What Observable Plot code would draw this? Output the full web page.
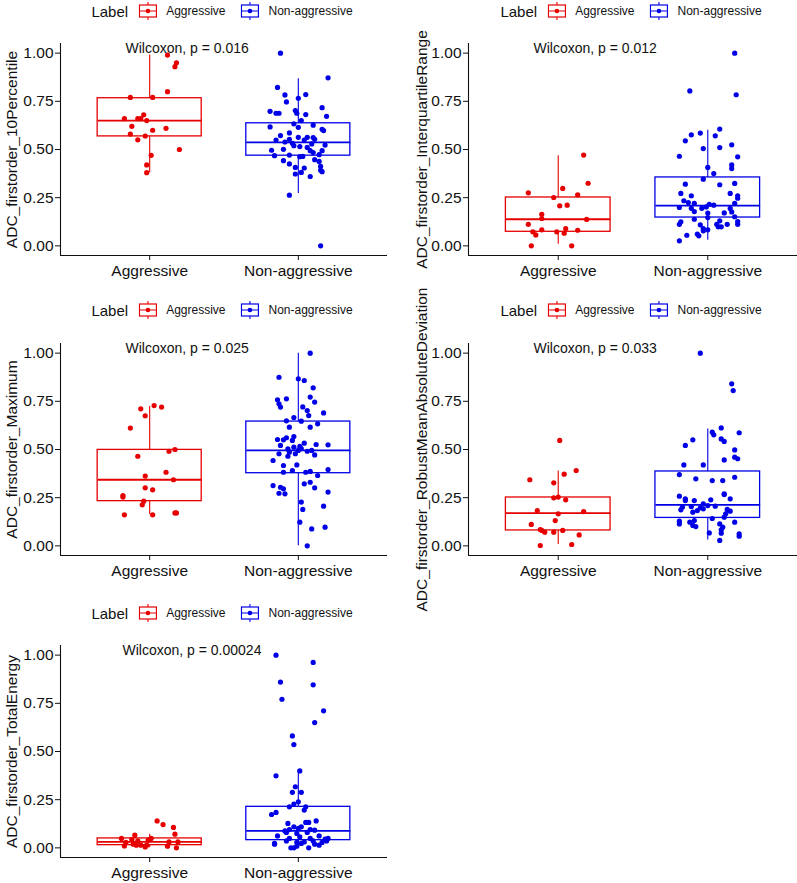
<!DOCTYPE html>
<html>
<head>
<meta charset="utf-8">
<script src="https://cdn.jsdelivr.net/npm/d3@7"></script>
<script src="https://cdn.jsdelivr.net/npm/@observablehq/plot@0.6"></script>
<style>
  html, body { margin: 0; padding: 0; background: #fff; }
  body { width: 797px; height: 883px; position: relative; overflow: hidden; font-family: "Liberation Sans", Arial, sans-serif; }
  .panel { position: absolute; }
  .panel svg { overflow: visible; }
  .legend { position: absolute; display: flex; align-items: center; transform: translateX(-50%); white-space: nowrap; color: #111; }
  .legend .title { font-size: 15px; margin-right: 10px; }
  .legend .lab { font-size: 12px; margin-left: 9px; }
  .legend .gap { width: 15px; }
</style>
</head>
<body>
<div id="root"></div>
<script>
// ---------------- data ----------------
const groups = ["Aggressive", "Non-aggressive"];
const legendTitle = "Label";
const features = [
  "ADC_firstorder_10Percentile",
  "ADC_firstorder_InterquartileRange",
  "ADC_firstorder_Maximum",
  "ADC_firstorder_RobustMeanAbsoluteDeviation",
  "ADC_firstorder_TotalEnergy"
];
const pValues = ["0.016", "0.012", "0.025", "0.033", "0.00024"];
const yTicks = [0, 0.25, 0.5, 0.75, 1];

// box statistics per feature: [lower whisker, q1, median, q3, upper whisker]
const boxAggressive = [
  [0.38, 0.568, 0.650, 0.766, 0.99],
  [0.009, 0.073, 0.138, 0.251, 0.467],
  [0.161, 0.232, 0.343, 0.498, 0.723],
  [0.007, 0.080, 0.170, 0.251, 0.388],
  [0.0, 0.014, 0.031, 0.049, 0.071]
];
const boxNonAggressive = [
  [0.272, 0.468, 0.537, 0.636, 0.867],
  [0.029, 0.147, 0.209, 0.355, 0.600],
  [0.0, 0.377, 0.495, 0.645, 1.0],
  [0.031, 0.145, 0.213, 0.386, 0.607],
  [0.0, 0.040, 0.088, 0.213, 0.404]
];

// jittered observations: [horizontal jitter, value]
const tenPctAgg = [[.12,.99],[.18,.95],[.17,.93],[.12,.80],[-.13,.77],[.02,.77],[-.17,.66],[-.04,.68],[-.08,.66],[-.06,.66],[-.02,.65],[-.12,.62],[.11,.61],[-.13,.58],[.02,.60],[-.03,.57],[-.08,.55],[.2,.50],[.01,.47],[-.02,.42],[-.02,.38]];
const tenPctNon = [[-.12,1.0],[.20,.872],[-.14,.822],[-.09,.783],[.05,.785],[0,.766],[-.08,.747],[.16,.717],[-.19,.698],[-.15,.688],[-.13,.688],[-.02,.702],[-.01,.688],[.05,.681],[.19,.672],[.02,.650],[-.03,.633],[.10,.626],[-.19,.617],[0,.615],[.16,.605],[.17,.598],[-.06,.586],[-.12,.572],[0,.563],[.06,.563],[.10,.562],[-.15,.549],[-.06,.553],[.04,.549],[.11,.553],[-.09,.539],[-.04,.532],[.09,.529],[.18,.523],[-.03,.520],[.01,.515],[.06,.511],[-.10,.501],[-.18,.496],[.08,.494],[.16,.494],[.10,.484],[-.06,.471],[-.16,.468],[.14,.473],[.03,.464],[.01,.463],[.11,.447],[-.10,.442],[.14,.438],[-.06,.425],[.15,.412],[-.02,.407],[.04,.404],[.15,.392],[.16,.385],[.02,.381],[-.02,.373],[.08,.360],[-.06,.263],[.15,0]];
const iqrAgg = [[.17,.471],[.20,.325],[.03,.298],[-.20,.275],[.13,.265],[-.03,.251],[.01,.208],[.06,.211],[-.11,.164],[-.11,.142],[.19,.137],[-.20,.112],[.05,.090],[-.11,.083],[.13,.081],[-.17,.073],[-.01,.073],[-.15,.057],[.04,.066],[-.18,0],[.09,0]];
const iqrNon = [[.18,1.0],[-.12,.804],[.19,.784],[.08,.606],[-.05,.585],[-.11,.576],[.05,.571],[-.15,.545],[.16,.524],[-.03,.505],[.08,.510],[-.19,.465],[.20,.462],[.16,.420],[.16,.401],[0,.407],[.04,.375],[-.03,.346],[-.15,.320],[.08,.317],[.18,.324],[-.18,.272],[.15,.272],[-.11,.260],[.20,.260],[.20,.247],[-.16,.234],[-.13,.225],[-.09,.221],[.18,.221],[.01,.216],[.04,.211],[-.19,.199],[-.11,.195],[-.04,.195],[-.01,.202],[.15,.194],[-.09,.178],[.11,.171],[0,.170],[.16,.176],[.18,.151],[-.09,.138],[0,.147],[.08,.130],[.20,.126],[-.18,.125],[-.19,.112],[-.05,.109],[.06,.112],[.13,.112],[.20,.112],[.09,.099],[-.03,.090],[0,.083],[.07,.099],[-.03,.078],[-.07,.061],[-.14,.055],[-.06,.052],[-.19,.026]];
const maxAgg = [[.03,.728],[.08,.720],[-.06,.711],[-.03,.675],[-.13,.611],[.17,.500],[.13,.491],[-.08,.465],[.11,.382],[-.03,.362],[.16,.343],[-.03,.301],[.02,.291],[-.18,.261],[-.18,.253],[-.04,.232],[-.05,.213],[.18,.171],[.17,.171],[-.17,.161],[.02,.161]];
const maxNon = [[.08,1.0],[-.13,.875],[0,.867],[.04,.858],[.10,.820],[.08,.772],[-.14,.758],[-.08,.763],[.11,.746],[-.13,.737],[-.12,.720],[.03,.721],[.06,.702],[.17,.690],[.07,.676],[-.03,.666],[-.08,.649],[.02,.647],[.13,.633],[.08,.616],[-.06,.616],[-.03,.567],[-.08,.561],[-.10,.550],[-.14,.552],[-.04,.547],[.04,.533],[.12,.526],[.20,.524],[-.12,.521],[.01,.516],[-.03,.512],[-.07,.503],[.02,.505],[0,.495],[-.06,.486],[.09,.495],[-.13,.478],[.06,.491],[-.02,.478],[.11,.472],[-.07,.465],[-.17,.443],[-.01,.420],[-.10,.417],[.20,.396],[-.04,.391],[-.10,.382],[.05,.382],[.08,.386],[.13,.365],[.08,.330],[.04,.322],[-.17,.313],[-.12,.304],[-.10,.296],[.11,.301],[-.13,.273],[-.09,.270],[.20,.279],[.02,.227],[.17,.206],[.03,.189],[.01,.123],[.18,.097],[.09,.088],[.06,0]];
const rmadAgg = [[.01,.547],[.12,.391],[.04,.372],[-.19,.343],[-.03,.327],[-.03,.249],[0,.253],[.05,.239],[-.14,.183],[.17,.178],[0,.166],[-.18,.111],[-.02,.131],[-.12,.085],[-.11,.080],[-.09,.071],[-.03,.071],[.03,.080],[.14,.057],[-.12,.002],[.09,.007]];
const rmadNon = [[-.05,1.0],[.16,.841],[.17,.806],[.09,.612],[.03,.590],[.04,.576],[.21,.587],[-.10,.550],[.09,.555],[.11,.542],[-.15,.521],[.18,.498],[.18,.460],[.20,.452],[.11,.446],[-.16,.420],[-.03,.420],[-.19,.370],[.18,.356],[-.08,.348],[.03,.339],[.10,.339],[.11,.270],[.11,.266],[-.19,.258],[-.15,.244],[-.15,.235],[-.09,.235],[.02,.239],[.15,.244],[-.17,.201],[-.11,.204],[-.03,.218],[-.05,.197],[0,.209],[.05,.206],[-.07,.183],[-.03,.192],[.13,.189],[.15,.180],[-.18,.187],[-.10,.175],[.12,.166],[.03,.142],[.11,.149],[-.19,.128],[-.12,.123],[-.09,.131],[-.19,.114],[-.10,.106],[-.08,.100],[.18,.123],[.08,.114],[.10,.097],[.09,.083],[.21,.062],[.21,.050],[.01,.067],[.09,.066],[.08,.028]];
const energyAgg = [[.05,.140],[.09,.121],[.16,.106],[.17,.071],[-.10,.066],[-.19,.049],[-.12,.043],[.01,.049],[-.01,.040],[-.08,.036],[-.16,.028],[.13,.031],[.19,.031],[-.11,.019],[-.09,.014],[-.06,.014],[-.02,.014],[-.17,.010],[.12,.009],[-.03,.005],[.18,0]];
const energyNon = [[-.15,1.0],[.10,.962],[-.12,.860],[.10,.846],[-.11,.771],[.17,.711],[.11,.650],[-.04,.581],[-.03,.536],[-.15,.374],[.01,.399],[-.02,.317],[-.04,.288],[.02,.288],[0,.239],[-.03,.227],[-.06,.213],[.05,.213],[.04,.196],[-.15,.184],[-.18,.173],[.12,.140],[-.07,.127],[.05,.132],[.07,.132],[-.03,.109],[.02,.109],[0,.101],[-.06,.095],[.08,.095],[-.09,.088],[.11,.092],[-.08,.080],[.06,.080],[-.01,.075],[-.14,.062],[.14,.062],[.01,.057],[.18,.045],[.20,.049],[-.06,.049],[.08,.049],[-.08,.036],[.10,.036],[.19,.036],[.04,.031],[-.01,.028],[.16,.028],[.02,.023],[-.16,.023],[-.16,.019],[.14,.014],[.11,.019],[-.01,.009],[-.05,0],[.07,0],[-.03,0]];

const pointsAggressive = [tenPctAgg, iqrAgg, maxAgg, rmadAgg, energyAgg];
const pointsNonAggressive = [tenPctNon, iqrNon, maxNon, rmadNon, energyNon];

// ---------------- styling / layout ----------------
const colors = ["#E60000", "#0000E6"];
const FONT = "'Liberation Sans', Arial, sans-serif";
const layout = [
  {left: 0,   top: 30,  width: 400, ml: 60, mr: 13, legendX: 222, legendY: 2},
  {left: 400, top: 30,  width: 397, ml: 68, mr: 0,  legendX: 631, legendY: 2},
  {left: 0,   top: 330, width: 400, ml: 60, mr: 13, legendX: 222, legendY: 301},
  {left: 400, top: 330, width: 397, ml: 68, mr: 0,  legendX: 631, legendY: 301},
  {left: 0,   top: 632, width: 400, ml: 60, mr: 13, legendX: 222, legendY: 604}
];

const root = document.getElementById("root");

function keyGlyph(color) {
  const ns = "http://www.w3.org/2000/svg";
  const s = document.createElementNS(ns, "svg");
  s.setAttribute("width", 19); s.setAttribute("height", 18);
  s.innerHTML =
    `<line x1="9.5" x2="9.5" y1="0" y2="3" stroke="${color}" stroke-width="1.1"/>` +
    `<line x1="9.5" x2="9.5" y1="15" y2="18" stroke="${color}" stroke-width="1.1"/>` +
    `<rect x="1" y="3" width="17" height="12" fill="white" stroke="${color}" stroke-width="1.2"/>` +
    `<line x1="1" x2="18" y1="9" y2="9" stroke="${color}" stroke-width="1.2"/>` +
    `<circle cx="9.5" cy="9" r="2.3" fill="${color}"/>`;
  return s;
}

function makeLegend(L) {
  const d = document.createElement("div");
  d.className = "legend";
  d.style.left = L.legendX + "px";
  d.style.top = L.legendY + "px";
  const t = document.createElement("span"); t.className = "title"; t.textContent = legendTitle; d.appendChild(t);
  groups.forEach((g, i) => {
    if (i > 0) { const gp = document.createElement("span"); gp.className = "gap"; d.appendChild(gp); }
    d.appendChild(keyGlyph(colors[i]));
    const l = document.createElement("span"); l.className = "lab"; l.textContent = g; d.appendChild(l);
  });
  root.appendChild(d);
}

features.forEach((feat, k) => {
  const L = layout[k];
  const boxes = [boxAggressive[k], boxNonAggressive[k]].map((b, i) => ({
    x: i + 1, group: groups[i], lo: b[0], q1: b[1], med: b[2], q3: b[3], hi: b[4]
  }));
  const pts = [];
  [pointsAggressive[k], pointsNonAggressive[k]].forEach((arr, i) =>
    arr.forEach(([j, v]) => pts.push({x: i + 1 + j, y: v, group: groups[i]})));
  const colorOf = g => colors[groups.indexOf(g)];
  const halfW = 0.35;

  const chart = Plot.plot({
    width: L.width,
    height: k === 4 ? 251 : 262,
    marginLeft: L.ml,
    marginRight: L.mr,
    marginTop: 13,
    marginBottom: k === 4 ? 26 : 37,
    style: {fontFamily: FONT, fontSize: "15.5px", color: "#111", background: "white", overflow: "visible"},
    x: {domain: [0.4, 2.6], axis: null},
    y: {domain: [-0.05, 1.05], axis: null},
    marks: [
      // axis lines
      Plot.ruleX([0.4], {y1: -0.05, y2: 1.05, stroke: "#111", strokeWidth: 1.1}),
      Plot.ruleY([-0.05], {x1: 0.4, x2: 2.6, stroke: "#111", strokeWidth: 1.1}),
      Plot.axisY({ticks: yTicks, tickFormat: d3.format(".2f"), tickSize: 5, tickPadding: 2, fontSize: 15.5, stroke: "#111", label: null}),
      Plot.axisX({ticks: [1, 2], tickFormat: d => groups[d - 1], tickSize: 5, tickPadding: 4, fontSize: 15.5, stroke: "#111", label: null}),
      // whiskers
      Plot.ruleX(boxes, {x: "x", y1: "lo", y2: "hi", stroke: d => colorOf(d.group), strokeWidth: 1.1}),
      // boxes
      Plot.rect(boxes, {x1: d => d.x - halfW, x2: d => d.x + halfW, y1: "q1", y2: "q3", fill: "white", stroke: d => colorOf(d.group), strokeWidth: 1.3}),
      Plot.link(boxes, {x1: d => d.x - halfW, x2: d => d.x + halfW, y1: "med", y2: "med", stroke: d => colorOf(d.group), strokeWidth: 1.8}),
      // jittered points
      Plot.dot(pts, {x: "x", y: "y", r: 2.6, fill: d => colorOf(d.group), stroke: "none"}),
      // p-value annotation
      Plot.text([`Wilcoxon, p = ${pValues[k]}`], {frameAnchor: "top-left", dx: 65 - (k === 4 ? 3 : 0), dy: 5, textAnchor: "start", lineAnchor: "middle", fontSize: 14, fill: "#111"}),
      // y axis title
      Plot.text([feat], {frameAnchor: "left", dx: -(L.ml - (k % 2 === 1 ? 22 : 12)), rotate: -90, textAnchor: "middle", fontSize: 15.5, fill: "#111"})
    ]
  });
  const wrap = document.createElement("div");
  wrap.className = "panel";
  wrap.style.left = L.left + "px";
  wrap.style.top = L.top + "px";
  wrap.appendChild(chart);
  root.appendChild(wrap);
  makeLegend(L);
});
</script>
</body>
</html>
